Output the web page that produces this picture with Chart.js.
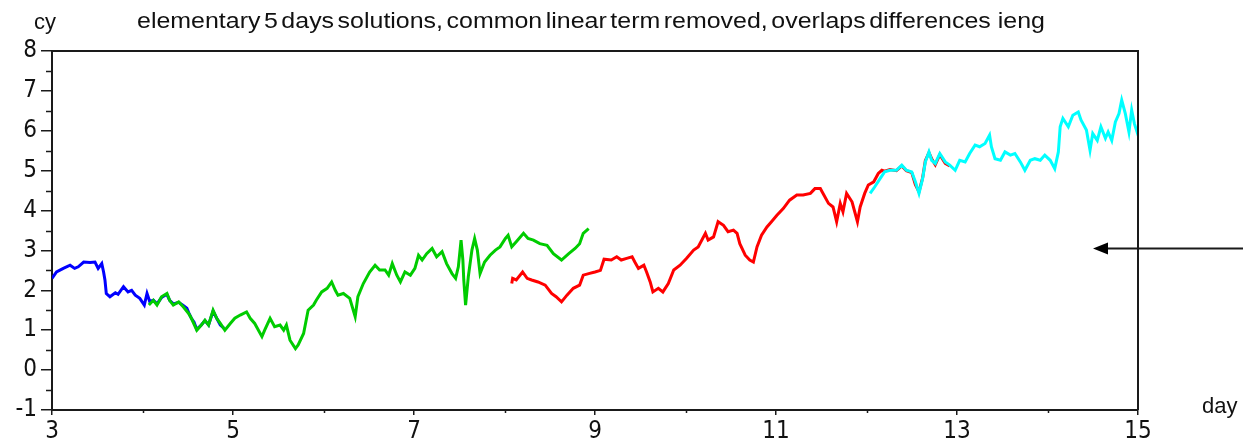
<!DOCTYPE html>
<html>
<head>
<meta charset="utf-8">
<script src="https://cdn.jsdelivr.net/npm/chart.js@4.4.1/dist/chart.umd.min.js"></script>
<style>
  html, body { margin: 0; padding: 0; background: #ffffff; }
  #wrap { width: 1243px; height: 446px; position: relative; }
</style>
</head>
<body>
<div id="wrap"><canvas id="c" width="1243" height="446"></canvas></div>
<script>
// Labels
const titleText = 'elementary 5 days solutions, common linear term removed, overlaps differences  ieng';
const yAxisName = 'cy';
const xAxisName = 'day';

// Axis ticks
const xTickValues = [3, 5, 7, 9, 11, 13, 15];
const xMinorTicks = [4, 6, 8, 10, 12, 14];
const yTickValues = [-1, 0, 1, 2, 3, 4, 5, 6, 7, 8];
const yMinorTicks = [-0.5, 0.5, 1.5, 2.5, 3.5, 4.5, 5.5, 6.5, 7.5];

// Series: [day, cy]
const bluePoints = [
  [3.00, 2.30], [3.05, 2.46], [3.125, 2.55], [3.20, 2.63], [3.25, 2.55], [3.29, 2.59],
  [3.35, 2.71], [3.42, 2.70], [3.475, 2.71], [3.51, 2.55], [3.55, 2.67], [3.57, 2.46],
  [3.585, 2.26], [3.60, 1.92], [3.64, 1.84], [3.70, 1.94], [3.73, 1.90], [3.79, 2.09],
  [3.84, 1.96], [3.88, 2.00], [3.92, 1.88], [3.97, 1.80], [4.02, 1.63], [4.05, 1.92],
  [4.08, 1.72], [4.12, 1.75], [4.16, 1.66], [4.21, 1.82], [4.27, 1.90], [4.30, 1.75],
  [4.34, 1.66], [4.40, 1.70], [4.45, 1.62], [4.49, 1.55], [4.51, 1.44], [4.54, 1.30],
  [4.57, 1.20], [4.60, 1.02], [4.65, 1.13], [4.69, 1.24], [4.73, 1.13], [4.78, 1.48],
  [4.82, 1.30], [4.86, 1.13], [4.90, 1.05]
];

const greenPoints = [
  [4.07, 1.63], [4.12, 1.75], [4.16, 1.63], [4.21, 1.84], [4.27, 1.92], [4.30, 1.75],
  [4.34, 1.63], [4.40, 1.71], [4.45, 1.59], [4.51, 1.42], [4.54, 1.30], [4.60, 1.00],
  [4.65, 1.13], [4.69, 1.25], [4.73, 1.13], [4.78, 1.50], [4.82, 1.30], [4.86, 1.17],
  [4.91, 1.00], [4.97, 1.17], [5.02, 1.30], [5.08, 1.38], [5.15, 1.46], [5.19, 1.30],
  [5.24, 1.17], [5.32, 0.84], [5.35, 1.00], [5.41, 1.30], [5.46, 1.09], [5.52, 1.13],
  [5.56, 1.00], [5.59, 1.13], [5.63, 0.75], [5.69, 0.54], [5.72, 0.63], [5.78, 0.92],
  [5.83, 1.50], [5.89, 1.63], [5.92, 1.75], [5.98, 1.96], [6.04, 2.05], [6.09, 2.21],
  [6.13, 2.00], [6.16, 1.88], [6.22, 1.92], [6.29, 1.80], [6.35, 1.34], [6.38, 1.84],
  [6.44, 2.17], [6.51, 2.46], [6.57, 2.63], [6.62, 2.51], [6.68, 2.51], [6.72, 2.38],
  [6.76, 2.67], [6.81, 2.38], [6.85, 2.21], [6.90, 2.46], [6.96, 2.38], [7.01, 2.55],
  [7.05, 2.88], [7.09, 2.76], [7.14, 2.92], [7.20, 3.05], [7.25, 2.84], [7.31, 2.97],
  [7.36, 2.67], [7.42, 2.42], [7.46, 2.30], [7.49, 2.59], [7.52, 3.26], [7.54, 2.76],
  [7.55, 2.26], [7.57, 1.63], [7.60, 2.34], [7.64, 3.01], [7.67, 3.30], [7.70, 3.01],
  [7.73, 2.42], [7.78, 2.71], [7.84, 2.88], [7.90, 3.01], [7.95, 3.09], [8.01, 3.30],
  [8.04, 3.38], [8.08, 3.09], [8.13, 3.22], [8.21, 3.43], [8.26, 3.30], [8.32, 3.26],
  [8.39, 3.17], [8.47, 3.13], [8.54, 2.92], [8.63, 2.76], [8.71, 2.92], [8.78, 3.05],
  [8.83, 3.17], [8.87, 3.43], [8.93, 3.55]
];

const redPoints = [
  [8.08, 2.17], [8.09, 2.30], [8.13, 2.26], [8.20, 2.46], [8.25, 2.30], [8.30, 2.26],
  [8.37, 2.21], [8.45, 2.13], [8.52, 1.92], [8.57, 1.84], [8.63, 1.71], [8.69, 1.88],
  [8.76, 2.05], [8.83, 2.13], [8.87, 2.38], [8.93, 2.42], [9.00, 2.46], [9.06, 2.50],
  [9.10, 2.78], [9.18, 2.76], [9.24, 2.84], [9.29, 2.76], [9.35, 2.80], [9.41, 2.84],
  [9.44, 2.71], [9.48, 2.55], [9.54, 2.63], [9.57, 2.46], [9.61, 2.21], [9.64, 1.96],
  [9.70, 2.05], [9.75, 1.96], [9.81, 2.17], [9.87, 2.51], [9.94, 2.63], [10.01, 2.80],
  [10.09, 3.01], [10.14, 3.09], [10.22, 3.43], [10.25, 3.26], [10.31, 3.34], [10.36, 3.72],
  [10.42, 3.63], [10.47, 3.47], [10.53, 3.51], [10.57, 3.43], [10.60, 3.17], [10.66, 2.88],
  [10.71, 2.76], [10.75, 2.71], [10.79, 3.09], [10.84, 3.38], [10.90, 3.59], [10.95, 3.72],
  [11.01, 3.88], [11.08, 4.05], [11.15, 4.26], [11.23, 4.39], [11.30, 4.39], [11.38, 4.43],
  [11.43, 4.55], [11.49, 4.55], [11.52, 4.43], [11.58, 4.18], [11.63, 4.09], [11.67, 3.72],
  [11.71, 4.18], [11.74, 3.97], [11.78, 4.43], [11.84, 4.22], [11.87, 3.97], [11.90, 3.72],
  [11.93, 4.09], [11.98, 4.43], [12.02, 4.64], [12.08, 4.72], [12.13, 4.93], [12.17, 5.01],
  [12.20, 4.99], [12.26, 5.03], [12.33, 5.00], [12.39, 5.12], [12.44, 5.00], [12.50, 4.95],
  [12.54, 4.65], [12.58, 4.47], [12.62, 4.82], [12.65, 5.25], [12.69, 5.45], [12.72, 5.30],
  [12.76, 5.15], [12.81, 5.40], [12.87, 5.18], [12.92, 5.12]
];

const cyanPoints = [
  [12.04, 4.43], [12.09, 4.59], [12.15, 4.80], [12.20, 4.97], [12.26, 5.01], [12.33, 5.01],
  [12.39, 5.14], [12.44, 5.01], [12.50, 4.97], [12.54, 4.72], [12.58, 4.43], [12.62, 4.80],
  [12.65, 5.22], [12.69, 5.47], [12.72, 5.26], [12.76, 5.18], [12.81, 5.43], [12.87, 5.22],
  [12.92, 5.14], [12.98, 5.01], [13.03, 5.26], [13.09, 5.22], [13.14, 5.43], [13.20, 5.64],
  [13.25, 5.60], [13.31, 5.68], [13.36, 5.89], [13.38, 5.60], [13.42, 5.30], [13.48, 5.26],
  [13.53, 5.47], [13.59, 5.39], [13.64, 5.43], [13.70, 5.22], [13.75, 5.01], [13.81, 5.26],
  [13.86, 5.30], [13.92, 5.26], [13.97, 5.39], [14.03, 5.26], [14.08, 5.05], [14.12, 5.47],
  [14.14, 6.10], [14.17, 6.31], [14.23, 6.10], [14.28, 6.39], [14.34, 6.47], [14.37, 6.27],
  [14.43, 6.02], [14.47, 5.51], [14.50, 5.93], [14.55, 5.76], [14.59, 6.10], [14.64, 5.81],
  [14.67, 5.97], [14.71, 5.76], [14.75, 6.22], [14.79, 6.43], [14.82, 6.77], [14.86, 6.43],
  [14.90, 5.97], [14.93, 6.52], [14.96, 6.18], [14.99, 5.97], [15.00, 6.10]
];

// Marker arrow on the right, at this cy level
const arrowLevel = 3.05;

const AXIS_COLOR = '#1a1a1a';
const TEXT_COLOR = '#111111';
const TICK_FONT = { family: "'Liberation Sans Narrow', 'DejaVu Sans Condensed', 'Liberation Sans', sans-serif", size: 24 };

function toXY(points) {
  return points.map(([x, y]) => ({ x, y }));
}

function series(points, color, order) {
  return {
    data: toXY(points),
    borderColor: color,
    backgroundColor: color,
    borderWidth: 3,
    pointRadius: 0,
    tension: 0,
    fill: false,
    order: order,
    borderJoinStyle: 'miter'
  };
}

// Frame, minor ticks, axis names, title and the arrow
const decorations = {
  id: 'decorations',
  afterDraw(chart) {
    const { ctx, chartArea: a, scales: { x, y } } = chart;
    ctx.save();
    ctx.strokeStyle = AXIS_COLOR;
    ctx.lineWidth = 2;

    // top and right sides of the frame
    ctx.beginPath();
    ctx.moveTo(a.left, a.top);
    ctx.lineTo(a.right, a.top);
    ctx.lineTo(a.right, a.bottom);
    ctx.stroke();

    // minor ticks
    ctx.lineWidth = 1.5;
    ctx.beginPath();
    yMinorTicks.forEach(v => {
      const py = Math.round(y.getPixelForValue(v)) + 0.5;
      ctx.moveTo(a.left - 6, py);
      ctx.lineTo(a.left, py);
    });
    xMinorTicks.forEach(v => {
      const px = Math.round(x.getPixelForValue(v)) + 0.5;
      ctx.moveTo(px, a.bottom);
      ctx.lineTo(px, a.bottom + 3);
    });
    ctx.stroke();

    // arrow
    const ay = Math.round(y.getPixelForValue(arrowLevel)) + 0.5;
    const tipX = a.right - 45;
    ctx.lineWidth = 2;
    ctx.beginPath();
    ctx.moveTo(chart.width, ay);
    ctx.lineTo(tipX + 10, ay);
    ctx.stroke();
    ctx.fillStyle = '#000';
    ctx.beginPath();
    ctx.moveTo(tipX, ay);
    ctx.lineTo(tipX + 15, ay - 6);
    ctx.lineTo(tipX + 15, ay + 6);
    ctx.closePath();
    ctx.fill();

    // texts
    ctx.fillStyle = TEXT_COLOR;
    ctx.textBaseline = 'alphabetic';
    ctx.font = "22px 'Liberation Sans', sans-serif";
    ctx.textAlign = 'center';
    ctx.fillText(yAxisName, 45, 29);
    ctx.textAlign = 'left';
    ctx.fillText(xAxisName, 1202, 413);

    // title, fitted to its span
    const titleLeft = 137, titleWidth = 908;
    if ('wordSpacing' in ctx) ctx.wordSpacing = '-3px';
    const w = ctx.measureText(titleText).width;
    ctx.save();
    ctx.translate(titleLeft, 28);
    ctx.scale(titleWidth / w, 1);
    ctx.fillText(titleText, 0, 0);
    ctx.restore();

    ctx.restore();
  }
};

new Chart(document.getElementById('c'), {
  type: 'line',
  data: {
    datasets: [
      series(bluePoints, '#0000ff', 4),
      series(greenPoints, '#00cc00', 3),
      series(redPoints, '#ff0000', 2),
      series(cyanPoints, '#00ffff', 1)
    ]
  },
  options: {
    responsive: false,
    animation: false,
    devicePixelRatio: 1,
    layout: { padding: { top: 51, right: 105, left: 0, bottom: 0 } },
    plugins: {
      legend: { display: false },
      title: { display: false },
      tooltip: { enabled: false }
    },
    scales: {
      x: {
        type: 'linear',
        min: 3,
        max: 15,
        afterBuildTicks: s => { s.ticks = xTickValues.map(v => ({ value: v })); },
        afterFit: s => { s.height = 36; },
        grid: { display: true, drawOnChartArea: false, drawTicks: true, tickLength: 5, color: AXIS_COLOR, lineWidth: 1.5 },
        border: { display: true, color: AXIS_COLOR, width: 2 },
        ticks: { color: TEXT_COLOR, font: TICK_FONT, padding: 2, maxRotation: 0, autoSkip: false }
      },
      y: {
        type: 'linear',
        min: -1,
        max: 8,
        afterBuildTicks: s => { s.ticks = yTickValues.map(v => ({ value: v })); },
        afterFit: s => { s.width = 52; },
        grid: { display: true, drawOnChartArea: false, drawTicks: true, tickLength: 11, color: AXIS_COLOR, lineWidth: 1.5 },
        border: { display: true, color: AXIS_COLOR, width: 2 },
        ticks: { color: TEXT_COLOR, font: TICK_FONT, padding: 4, autoSkip: false }
      }
    }
  },
  plugins: [decorations]
});
</script>
</body>
</html>
